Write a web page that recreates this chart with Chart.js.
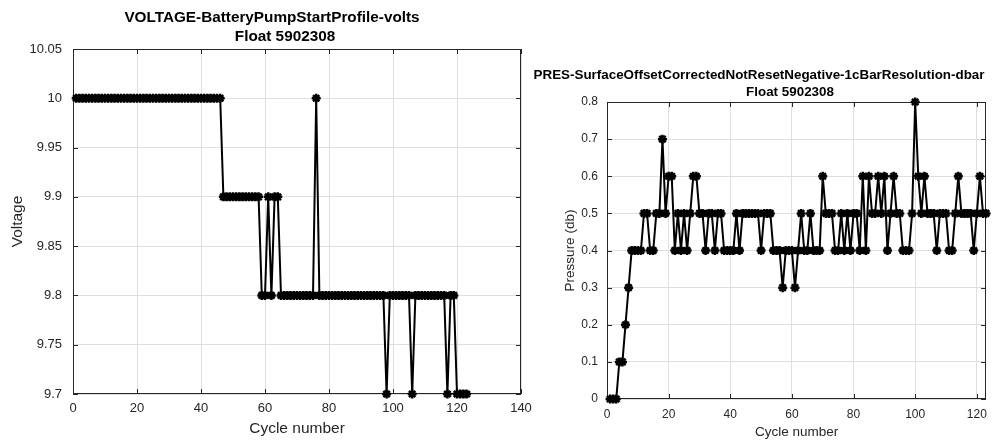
<!DOCTYPE html>
<html>
<head>
<meta charset="utf-8">
<script src="https://cdn.jsdelivr.net/npm/chart.js@4.4.1/dist/chart.umd.min.js"></script>
<style>
  body { margin: 0; background: #fff; }
  #wrap { position: relative; width: 995px; height: 441px; overflow: hidden; }
  #voltChart { position: absolute; left: 0; top: 0; }
  #presChart { position: absolute; left: 525px; top: 0; }
</style>
</head>
<body>
<div id="wrap">
  <canvas id="voltChart" width="540" height="441"></canvas>
  <canvas id="presChart" width="470" height="441"></canvas>
</div>
<script>
const cycles = [
  1, 2, 3, 4, 5, 6, 7, 8, 9, 10, 11, 12, 13, 14, 15, 16, 17, 18, 19, 20,
  21, 22, 23, 24, 25, 26, 27, 28, 29, 30, 31, 32, 33, 34, 35, 36, 37, 38, 39, 40,
  41, 42, 43, 44, 45, 46, 47, 48, 49, 50, 51, 52, 53, 54, 55, 56, 57, 58, 59, 60,
  61, 62, 63, 64, 65, 66, 67, 68, 69, 70, 71, 72, 73, 74, 75, 76, 77, 78, 79, 80,
  81, 82, 83, 84, 85, 86, 87, 88, 89, 90, 91, 92, 93, 94, 95, 96, 97, 98, 99, 100,
  101, 102, 103, 104, 105, 106, 107, 108, 109, 110, 111, 112, 113, 114, 115, 116, 117, 118, 119, 120,
  121, 122, 123
];

const voltage = [
  10, 10, 10, 10, 10, 10, 10, 10, 10, 10, 10, 10, 10, 10, 10, 10, 10, 10, 10, 10,
  10, 10, 10, 10, 10, 10, 10, 10, 10, 10, 10, 10, 10, 10, 10, 10, 10, 10, 10, 10,
  10, 10, 10, 10, 10, 10, 9.9, 9.9, 9.9, 9.9, 9.9, 9.9, 9.9, 9.9, 9.9, 9.9, 9.9, 9.9, 9.8, 9.8,
  9.9, 9.8, 9.9, 9.9, 9.8, 9.8, 9.8, 9.8, 9.8, 9.8, 9.8, 9.8, 9.8, 9.8, 9.8, 10, 9.8, 9.8, 9.8, 9.8,
  9.8, 9.8, 9.8, 9.8, 9.8, 9.8, 9.8, 9.8, 9.8, 9.8, 9.8, 9.8, 9.8, 9.8, 9.8, 9.8, 9.8, 9.7, 9.8, 9.8,
  9.8, 9.8, 9.8, 9.8, 9.8, 9.7, 9.8, 9.8, 9.8, 9.8, 9.8, 9.8, 9.8, 9.8, 9.8, 9.8, 9.7, 9.8, 9.8, 9.7,
  9.7, 9.7, 9.7
];

const pressure = [
  0, 0, 0, 0.1, 0.1, 0.2, 0.3, 0.4, 0.4, 0.4, 0.4, 0.5, 0.5, 0.4, 0.4, 0.5, 0.5, 0.7, 0.5, 0.6,
  0.6, 0.4, 0.5, 0.4, 0.5, 0.4, 0.5, 0.6, 0.6, 0.5, 0.5, 0.4, 0.5, 0.5, 0.4, 0.5, 0.5, 0.4, 0.4, 0.4,
  0.4, 0.5, 0.4, 0.5, 0.5, 0.5, 0.5, 0.5, 0.5, 0.4, 0.5, 0.5, 0.5, 0.4, 0.4, 0.4, 0.3, 0.4, 0.4, 0.4,
  0.3, 0.4, 0.5, 0.4, 0.4, 0.5, 0.4, 0.4, 0.4, 0.6, 0.5, 0.5, 0.5, 0.4, 0.4, 0.5, 0.4, 0.5, 0.4, 0.5,
  0.5, 0.4, 0.6, 0.4, 0.6, 0.5, 0.5, 0.6, 0.5, 0.6, 0.4, 0.5, 0.6, 0.5, 0.5, 0.4, 0.4, 0.4, 0.5, 0.8,
  0.6, 0.5, 0.6, 0.5, 0.5, 0.5, 0.4, 0.5, 0.5, 0.5, 0.4, 0.4, 0.5, 0.6, 0.5, 0.5, 0.5, 0.5, 0.4, 0.5,
  0.6, 0.5, 0.5
];

const voltXTicks = [0, 20, 40, 60, 80, 100, 120, 140];
const voltYTicks = [9.7, 9.75, 9.8, 9.85, 9.9, 9.95, 10, 10.05];
const presXTicks = [0, 20, 40, 60, 80, 100, 120];
const presYTicks = [0, 0.1, 0.2, 0.3, 0.4, 0.5, 0.6, 0.7, 0.8];

const FONT = "'Liberation Sans', Arial, Helvetica, sans-serif";
const AXIS = '#262626';
const GRID = '#dfdfdf';

function points(ys) {
  return cycles.map((c, i) => ({ x: c, y: ys[i] }));
}

function fmt(v) {
  return String(+v.toFixed(2));
}

// matlab-ish box: frame on all 4 sides with inward tick marks
const boxPlugin = {
  id: 'box',
  beforeDatasetsDraw(chart) {
    const { ctx, chartArea: a, scales } = chart;
    ctx.save();
    ctx.strokeStyle = AXIS;
    ctx.lineWidth = 1;
    ctx.strokeRect(Math.round(a.left) + 0.5, Math.round(a.top) + 0.5,
      Math.round(a.right - a.left) - 1, Math.round(a.bottom - a.top) - 1);
    ctx.beginPath();
    scales.x.ticks.forEach(t => {
      const px = Math.round(scales.x.getPixelForValue(t.value)) + 0.5;
      ctx.moveTo(px, a.bottom); ctx.lineTo(px, a.bottom - 5);
      ctx.moveTo(px, a.top); ctx.lineTo(px, a.top + 5);
    });
    scales.y.ticks.forEach(t => {
      const py = Math.round(scales.y.getPixelForValue(t.value)) + 0.5;
      ctx.moveTo(a.left, py); ctx.lineTo(a.left + 5, py);
      ctx.moveTo(a.right, py); ctx.lineTo(a.right - 5, py);
    });
    ctx.stroke();
    ctx.restore();
  }
};

// two-line bold title, each line centred where the original puts it
const titlePlugin = {
  id: 'twoLineTitle',
  afterDraw(chart, args, opts) {
    const ctx = chart.ctx;
    ctx.save();
    ctx.fillStyle = '#000';
    ctx.font = 'bold ' + opts.size + 'px ' + FONT;
    ctx.textAlign = 'center';
    ctx.textBaseline = 'middle';
    opts.lines.forEach(l => ctx.fillText(l.text, l.x, l.y));
    ctx.restore();
  }
};

function makeChart(id, ys, cfg) {
  return new Chart(document.getElementById(id), {
    type: 'line',
    data: {
      datasets: [{
        data: points(ys),
        borderColor: '#000',
        backgroundColor: '#000',
        borderWidth: 2,
        pointStyle: 'star',
        pointRadius: 4.5,
        pointBorderWidth: 2.5,
        pointBorderColor: '#000',
        tension: 0,
        clip: false,
      }],
    },
    options: {
      responsive: false,
      animation: false,
      events: [],
      layout: { padding: cfg.padding },
      plugins: {
        legend: { display: false },
        tooltip: { enabled: false },
        twoLineTitle: { size: cfg.titleSize, lines: cfg.titles },
      },
      scales: {
        x: {
          type: 'linear',
          min: cfg.xMin,
          max: cfg.xMax,
          afterBuildTicks: s => { s.ticks = cfg.xTicks.map(v => ({ value: v })); },
          afterFit: s => { s.height = cfg.xHeight; },
          grid: { color: GRID, drawTicks: false },
          border: { display: false },
          ticks: {
            color: AXIS, padding: cfg.xTickPad, maxRotation: 0, autoSkip: false,
            font: { family: FONT, size: cfg.tickSize },
            callback: v => fmt(v),
          },
          title: {
            display: true, text: 'Cycle number', color: AXIS,
            font: { family: FONT, size: cfg.labelSize },
            padding: { top: 0, bottom: cfg.xTitlePad },
          },
        },
        y: {
          type: 'linear',
          min: cfg.yMin,
          max: cfg.yMax,
          afterBuildTicks: s => { s.ticks = cfg.yTicks.map(v => ({ value: v })); },
          afterFit: s => { s.width = cfg.yWidth; },
          grid: { color: GRID, drawTicks: false },
          border: { display: false },
          ticks: {
            color: AXIS, padding: cfg.yTickPad, autoSkip: false,
            font: { family: FONT, size: cfg.tickSize },
            callback: v => fmt(v),
          },
          title: {
            display: true, text: cfg.yLabel, color: AXIS,
            font: { family: FONT, size: cfg.labelSize },
            padding: { top: cfg.yTitlePad, bottom: 0 },
          },
        },
      },
    },
    plugins: [boxPlugin, titlePlugin],
  });
}

makeChart('voltChart', voltage, {
  padding: { left: 0, top: 49, right: 19, bottom: 0 },
  xMin: 0, xMax: 140, xTicks: voltXTicks,
  yMin: 9.7, yMax: 10.05, yTicks: voltYTicks,
  xHeight: 47, yWidth: 73,
  tickSize: 13, labelSize: 15.5, titleSize: 15.3,
  xTickPad: 7, yTickPad: 11, xTitlePad: 3, yTitlePad: 8,
  yLabel: 'Voltage',
  titles: [
    { text: 'VOLTAGE-BatteryPumpStartProfile-volts', x: 272, y: 18 },
    { text: 'Float 5902308', x: 285, y: 37 },
  ],
});

makeChart('presChart', pressure, {
  padding: { left: 0, top: 102, right: 2, bottom: 0 },
  xMin: 0, xMax: 123, xTicks: presXTicks,
  yMin: 0, yMax: 0.8, yTicks: presYTicks,
  xHeight: 42, yWidth: 82,
  tickSize: 12, labelSize: 13.5, titleSize: 13.4,
  xTickPad: 8, yTickPad: 9, xTitlePad: 1, yTitlePad: 37,
  yLabel: 'Pressure (db)',
  titles: [
    { text: 'PRES-SurfaceOffsetCorrectedNotResetNegative-1cBarResolution-dbar', x: 234, y: 75 },
    { text: 'Float 5902308', x: 265, y: 92 },
  ],
});
</script>
</body>
</html>
